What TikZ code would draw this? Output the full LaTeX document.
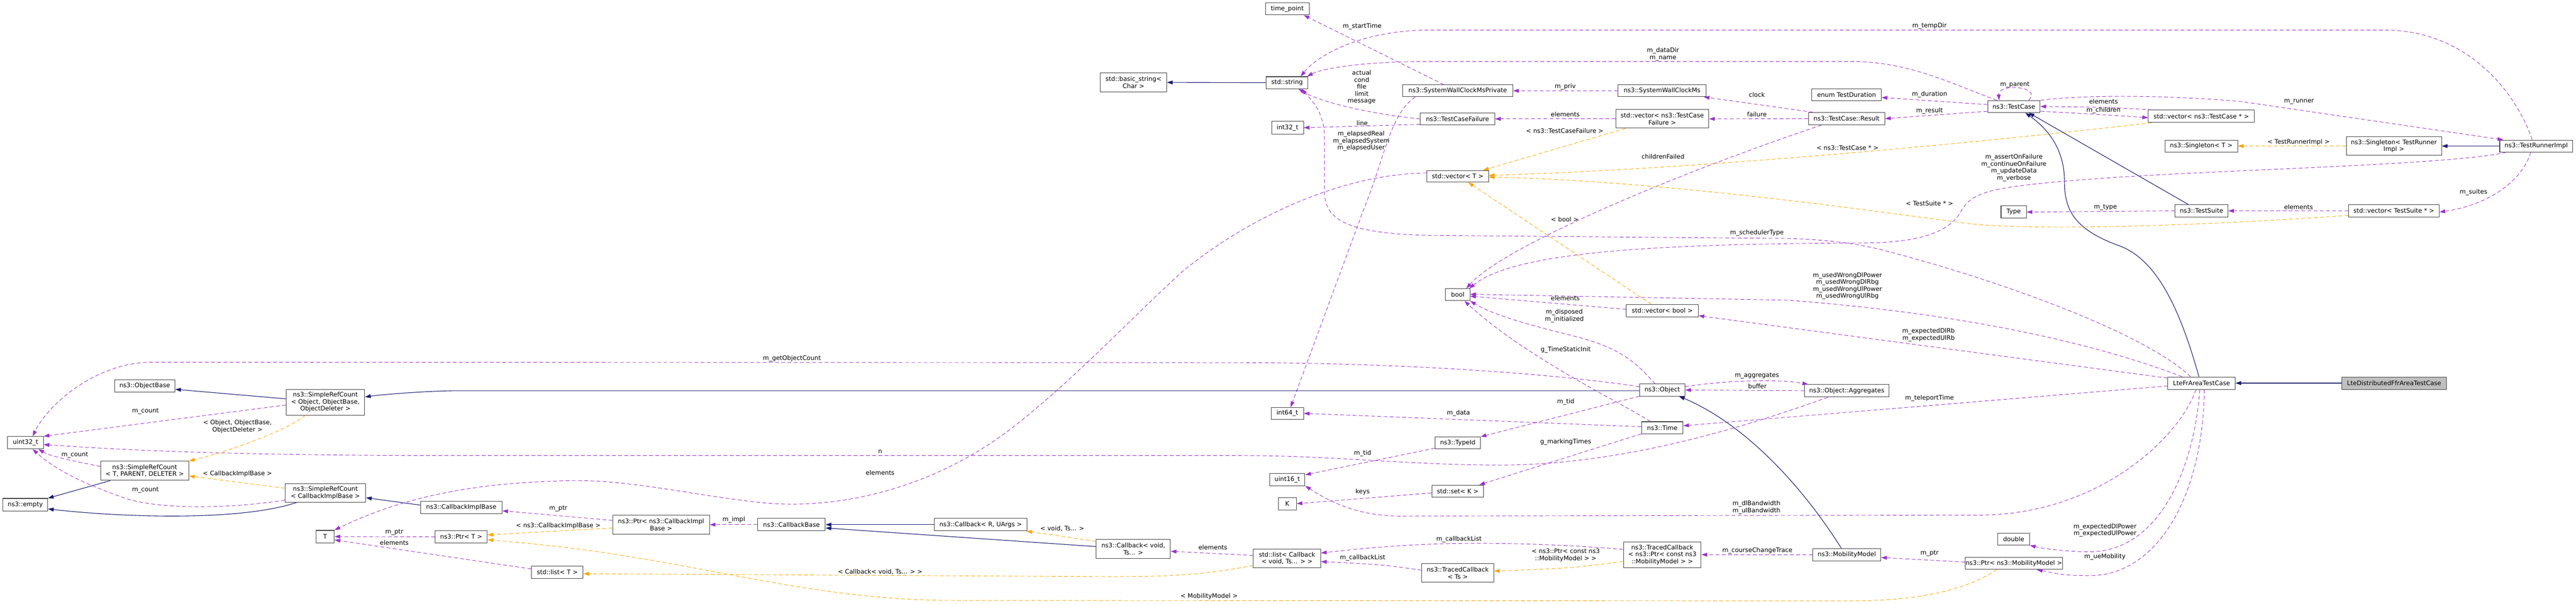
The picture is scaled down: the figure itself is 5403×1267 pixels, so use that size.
\documentclass[tikz,border=0pt]{standalone}
\usepackage{fontspec}
\setmainfont{DejaVu Sans}
\usetikzlibrary{arrows.meta}
\definecolor{inhc}{HTML}{191970}
\definecolor{usec}{HTML}{9A32CD}
\definecolor{tmplc}{HTML}{FFA500}
\definecolor{nodeb}{HTML}{404040}
\definecolor{mainfill}{HTML}{BFBFBF}
\newcommand{\dgfont}{\fontsize{13}{14.6}\selectfont}
\tikzset{
  cls/.style={draw=nodeb, line width=1.1pt, fill=white, align=center, inner sep=1pt, font=\dgfont, text=black},
  edgebase/.style={line width=1pt, -{Triangle[length=12pt,width=8pt]}},
  inher/.style={edgebase, draw=inhc, line width=1.2pt},
  usage/.style={edgebase, draw=usec, dash pattern=on 8pt off 5pt},
  templ/.style={edgebase, draw=tmplc, dash pattern=on 8pt off 5pt},
  lbl/.style={font=\dgfont, align=center, inner sep=0pt, text=black},
}
\begin{document}
\begin{tikzpicture}[x=1pt,y=-1pt]
\useasboundingbox (0,0) rectangle (5403,1267);
\fill[white] (0,0) rectangle (5403,1267);

% nodes
\node[cls,minimum width=92pt,minimum height=25.5pt] (timept) at (2700,18.5) {time\_point};
\node[cls,minimum width=139pt,minimum height=40pt] (bstr) at (2377.5,173) {std::basic\_string<\\Char >};
\node[cls,minimum width=87pt,minimum height=25pt] (str) at (2699.5,173.5) {std::string};
\node[cls,minimum width=67pt,minimum height=26pt] (i32) at (2700.5,268) {int32\_t};
\node[cls,minimum width=231pt,minimum height=25pt] (swcmp) at (3057.5,190.5) {ns3::SystemWallClockMsPrivate};
\node[cls,minimum width=184pt,minimum height=25pt] (swcm) at (3486,190.5) {ns3::SystemWallClockMs};
\node[cls,minimum width=156pt,minimum height=25pt] (tcf) at (3057,249.5) {ns3::TestCaseFailure};
\node[cls,minimum width=195pt,minimum height=39pt] (vtcf) at (3486.5,249.5) {std::vector< ns3::TestCase\\Failure >};
\node[cls,minimum width=129pt,minimum height=24.5pt] (vT) at (3057.5,370) {std::vector< T >};
\node[cls,minimum width=51pt,minimum height=25pt] (bool) at (3057.5,618.5) {bool};
\node[cls,minimum width=151pt,minimum height=26pt] (vbool) at (3486.5,652) {std::vector< bool >};
\node[cls,minimum width=146pt,minimum height=25pt] (dur) at (3873,198.5) {enum TestDuration};
\node[cls,minimum width=160pt,minimum height=26pt] (result) at (3873,249) {ns3::TestCase::Result};
\node[cls,minimum width=110pt,minimum height=25pt] (tc) at (4224,223.5) {ns3::TestCase};
\node[cls,minimum width=222pt,minimum height=26pt] (vtc) at (4617,244) {std::vector< ns3::TestCase * >};
\node[cls,minimum width=152pt,minimum height=25pt] (singT) at (4617,306.5) {ns3::Singleton< T >};
\node[cls,minimum width=200pt,minimum height=39pt] (singTR) at (5021,306.5) {ns3::Singleton< TestRunner\\Impl >};
\node[cls,minimum width=153pt,minimum height=25pt] (runner) at (5319.5,306.5) {ns3::TestRunnerImpl};
\node[cls,minimum width=53pt,minimum height=26pt] (type) at (4223.5,445) {Type};
\node[cls,minimum width=111pt,minimum height=25pt] (suite) at (4617.5,442.5) {ns3::TestSuite};
\node[cls,minimum width=190pt,minimum height=25pt] (vsuite) at (5021,442.5) {std::vector< TestSuite * >};
\node[cls,minimum width=95pt,minimum height=25pt] (object) at (3486.5,818.5) {ns3::Object};
\node[cls,minimum width=177pt,minimum height=26pt] (aggr) at (3873.5,820) {ns3::Object::Aggregates};
\node[cls,minimum width=141pt,minimum height=26pt] (ltefr) at (4617.5,804) {LteFrAreaTestCase};
\node[cls,fill=mainfill,minimum width=219pt,minimum height=26pt] (ltedist) at (5021.5,804) {LteDistributedFfrAreaTestCase};
\node[cls,minimum width=127pt,minimum height=26pt] (objbase) at (303.5,810) {ns3::ObjectBase};
\node[cls,minimum width=165pt,minimum height=54pt] (srcobj) at (682.5,844) {ns3::SimpleRefCount\\< Object, ObjectBase,\\ObjectDeleter >};
\node[cls,minimum width=75pt,minimum height=26pt] (u32) at (53.5,929) {uint32\_t};
\node[cls,minimum width=68pt,minimum height=25pt] (i64) at (2700,867.5) {int64\_t};
\node[cls,minimum width=87pt,minimum height=25pt] (time) at (3486.5,897.5) {ns3::Time};
\node[cls,minimum width=95pt,minimum height=25pt] (typeid) at (3057.5,929.5) {ns3::TypeId};
\node[cls,minimum width=185pt,minimum height=40pt] (srcT) at (303.5,988) {ns3::SimpleRefCount\\< T, PARENT, DELETER >};
\node[cls,minimum width=74pt,minimum height=25pt] (u16) at (2700,1006.5) {uint16\_t};
\node[cls,minimum width=94pt,minimum height=26pt] (empty) at (53,1059) {ns3::empty};
\node[cls,minimum width=169pt,minimum height=39pt] (srcCIB) at (682.5,1034.5) {ns3::SimpleRefCount\\< CallbackImplBase >};
\node[cls,minimum width=171pt,minimum height=26pt] (cib) at (967.5,1065) {ns3::CallbackImplBase};
\node[cls,minimum width=109pt,minimum height=25pt] (set) at (3057.5,1030.5) {std::set< K >};
\node[cls,minimum width=38pt,minimum height=26pt] (K) at (2700,1057) {K};
\node[cls,minimum width=203pt,minimum height=40pt] (ptrCIB) at (1386.5,1101) {ns3::Ptr< ns3::CallbackImpl\\Base >};
\node[cls,minimum width=142pt,minimum height=26pt] (cbbase) at (1660,1101) {ns3::CallbackBase};
\node[cls,minimum width=194pt,minimum height=26pt] (cbR) at (2057,1101) {ns3::Callback< R, UArgs >};
\node[cls,minimum width=38pt,minimum height=26pt] (T) at (682,1126) {T};
\node[cls,minimum width=109pt,minimum height=25pt] (ptrT) at (967.5,1126.5) {ns3::Ptr< T >};
\node[cls,minimum width=156pt,minimum height=40pt] (cbvoid) at (2377,1152) {ns3::Callback< void,\\Ts... >};
\node[cls,minimum width=141pt,minimum height=39pt] (listcb) at (2699.5,1171.5) {std::list< Callback\\< void, Ts... > >};
\node[cls,minimum width=163pt,minimum height=54pt] (tcMM) at (3486.5,1164) {ns3::TracedCallback\\< ns3::Ptr< const ns3\\::MobilityModel > >};
\node[cls,minimum width=143pt,minimum height=26pt] (mm) at (3873.5,1164) {ns3::MobilityModel};
\node[cls,minimum width=67pt,minimum height=25pt] (dbl) at (4223.5,1131.5) {double};
\node[cls,minimum width=192pt,minimum height=25pt] (ptrMM) at (4224,1182.5) {ns3::Ptr< ns3::MobilityModel >};
\node[cls,minimum width=151pt,minimum height=39pt] (tcTs) at (3057.5,1202.5) {ns3::TracedCallback\\< Ts >};
\node[cls,minimum width=108pt,minimum height=26pt] (listT) at (1169,1201) {std::list< T >};

% edges: top area
\draw[inher] (str.west) -- (bstr.east);
\draw[usage] ([xshift=-29.5pt]swcmp.north) -- ([xshift=-12pt]timept.south east) node[lbl,at={(2857,56)}] {m\_startTime};
\draw[usage] ([xshift=27pt]swcmp.south west) .. controls (2915,240) and (2905,330) .. (2860,440) -- ([xshift=7pt]i64.north) node[lbl,at={(2855,296)}] {m\_elapsedReal\\m\_elapsedSystem\\m\_elapsedUser};
\draw[usage] (tcf.west) .. controls (2880,240) and (2770,215) .. ([xshift=24pt]str.south) node[lbl,at={(2856,183)}] {actual\\cond\\file\\limit\\message};
\draw[usage] ([yshift=-11.5pt]tcf.west) -- (i32.east) node[lbl,at={(2857,258)}] {line};
\draw[usage] (swcm.west) -- (swcmp.east) node[lbl,at={(3283,182)}] {m\_priv};
\draw[usage] (vtcf.west) -- (tcf.east) node[lbl,at={(3283,240)}] {elements};
\draw[templ] ([xshift=21pt]vtcf.south west) -- ([xshift=-12pt]vT.north east) node[lbl,at={(3282,275)}] {< ns3::TestCaseFailure >};
\draw[usage] ([xshift=10pt]result.north west) -- ([xshift=-5pt]swcm.south east) node[lbl,at={(3685,199)}] {clock};
\draw[usage] (result.west) -- (vtcf.east) node[lbl,at={(3685,240)}] {failure};
\draw[usage] ([xshift=28pt]result.south west) .. controls (3500,370) and (3150,520) .. ([xshift=18pt]bool.north) node[lbl,at={(3488,328)}] {childrenFailed};
\draw[usage] ([yshift=4pt]tc.west) -- ([yshift=-6pt]dur.east) node[lbl,at={(4047,198)}] {m\_duration};
\draw[usage] ([yshift=-10pt]tc.west) -- (result.east) node[lbl,at={(4047,233)}] {m\_result};
\draw[usage] ([xshift=-36pt]tc.north) .. controls (4080,170) and (4000,129) .. (3880,129) -- (3000,129) .. controls (2850,129) and (2770,145) .. ([xshift=-2pt]str.north east) node[lbl,at={(3488,114)}] {m\_dataDir\\m\_name};
\draw[usage] ([xshift=-8.5pt]runner.north) .. controls (5280,200) and (5180,63) .. (5000,63) -- (3000,63) .. controls (2850,63) and (2760,120) .. ([xshift=28.5pt]str.north) node[lbl,at={(4047,54)}] {m\_tempDir};
\draw[usage] ([xshift=31pt]tc.north) .. controls (4285,180) and (4190,175) .. ([xshift=-31pt]tc.north) node[lbl,at={(4226,178)}] {m\_parent};
\draw[usage] ([xshift=8pt]vtc.north west) .. controls (4420,225) .. (tc.east) node[lbl,at={(4412,213)}] {elements};
\draw[usage] ([yshift=-10pt]tc.east) .. controls (4400,240) .. ([yshift=-3pt]vtc.west) node[lbl,at={(4412,232)}] {m\_children};
\draw[usage] (tc.north east) .. controls (4380,198) and (4550,200) .. (4700,213) -- ([xshift=8pt]runner.north west) node[lbl,at={(4822,213)}] {m\_runner};
\draw[templ] ([xshift=8pt]vtc.south west) .. controls (4100,305) and (3550,355) .. ([yshift=2pt]vT.east) node[lbl,at={(3875,310)}] {< ns3::TestCase * >};
\draw[templ] (singTR.west) -- (singT.east) node[lbl,at={(4821,298)}] {< TestRunnerImpl >};
\draw[inher] (runner.west) -- (singTR.east);
\draw[usage] ([xshift=-11.5pt]runner.south) .. controls (5290,380) and (5220,430) .. ([yshift=-2.5pt]vsuite.east) node[lbl,at={(5188,403)}] {m\_suites};
\draw[usage] (vsuite.west) -- (suite.east) node[lbl,at={(4821,434)}] {elements};
\draw[usage] (suite.west) -- (type.east) node[lbl,at={(4416,435)}] {m\_type};
\draw[inher] ([xshift=-27pt]suite.north) -- ([xshift=31pt]tc.south);
\draw[templ] ([yshift=-9.5pt]vsuite.west) .. controls (4600,475) and (4250,485) .. (4120,468) .. controls (3950,446) and (3500,380) .. ([yshift=-1.5pt]vT.east) node[lbl,at={(4047,427)}] {< TestSuite * >};
\draw[usage] ([xshift=14pt]runner.south west) .. controls (5150,345) and (4700,355) .. (4440,372) .. controls (4180,390) and (4140,400) .. (4115,440) .. controls (4090,490) and (4020,510) .. (3900,510) .. controls (3500,512) and (3180,525) .. ([xshift=-2pt]bool.north east) node[lbl,at={(4224,352)}] {m\_assertOnFailure\\m\_continueOnFailure\\m\_updateData\\m\_verbose};

% LteFrAreaTestCase edges
\draw[usage] ([xshift=-23pt]ltefr.north) .. controls (4500,700) and (4200,590) .. (3950,525) .. controls (3850,500) and (3750,500) .. (3700,500) -- (3000,494) .. controls (2820,490) and (2778,460) .. (2778,400) -- (2778,290) .. controls (2778,230) and (2745,205) .. ([xshift=31pt]str.south) node[lbl,at={(3685,489)}] {m\_schedulerType};
\draw[usage] ([xshift=-41pt]ltefr.north) .. controls (4420,730) and (4150,660) .. (3750,630) -- ([yshift=1pt]bool.east) node[lbl,at={(3875,600)}] {m\_usedWrongDlPower\\m\_usedWrongDlRbg\\m\_usedWrongUlPower\\m\_usedWrongUlRbg};
\draw[usage] ([yshift=-3pt]ltefr.north west) -- ([yshift=3pt]vbool.south east) node[lbl,at={(4045,703)}] {m\_expectedDlRb\\m\_expectedUlRb};
\draw[usage] ([yshift=3pt]vbool.west) -- ([yshift=-3pt]bool.east) node[lbl,at={(3283,626)}] {elements};
\draw[templ] ([xshift=-23pt]vbool.north) -- ([xshift=22pt]vT.south) node[lbl,at={(3282,460)}] {< bool >};
\draw[usage] ([yshift=-6pt]ltefr.west) -- ([yshift=4pt]time.east) node[lbl,at={(4047,836)}] {m\_teleportTime};
\draw[usage] ([xshift=-11.5pt]ltefr.south) .. controls (4570,920) and (4400,1081) .. (4150,1081) -- (2950,1083) .. controls (2860,1085) and (2800,1060) .. (u16.south east) node[lbl,at={(3684,1065)}] {m\_dlBandwidth\\m\_ulBandwidth};
\draw[usage] ([xshift=-3.5pt]ltefr.south) .. controls (4600,1000) and (4520,1160) .. (4380,1158) .. controls (4320,1157) and (4280,1150) .. (dbl.south east) node[lbl,at={(4415,1113)}] {m\_expectedDlPower\\m\_expectedUlPower};
\draw[usage] ([xshift=6pt]ltefr.south) .. controls (4620,1050) and (4520,1210) .. (4380,1208) .. controls (4330,1207) .. ([xshift=48pt]ptrMM.south) node[lbl,at={(4415,1169)}] {m\_ueMobility};
\draw[inher] (ltedist.west) -- (ltefr.east);
\draw[inher] ([xshift=-5.5pt]ltefr.north) .. controls (4570,640) and (4520,540) .. (4440,514) .. controls (4350,480) and (4330,440) .. (4330,380) .. controls (4330,300) and (4280,260) .. ([xshift=24pt]tc.south);

% Object / Time area
\draw[usage] ([xshift=-15pt]object.north) .. controls (3430,760) and (3400,730) .. (3300,705) .. controls (3200,680) and (3130,660) .. (bool.south east) node[lbl,at={(3281,663)}] {m\_disposed\\m\_initialized};
\draw[usage] ([xshift=-25pt]time.north) .. controls (3400,845) and (3200,750) .. ([xshift=14pt]bool.south) node[lbl,at={(3284,734)}] {g\_TimeStaticInit};
\draw[usage] (object.south west) -- (typeid.north east) node[lbl,at={(3284,843)}] {m\_tid};
\draw[usage] ([yshift=2pt]time.west) -- (i64.east) node[lbl,at={(3059,867)}] {m\_data};
\draw[usage] (time.south west) -- ([xshift=-10pt]set.north east) node[lbl,at={(3284,927)}] {g\_markingTimes};
\draw[usage] ([yshift=-4pt]set.west) -- (K.east) node[lbl,at={(2858,1032)}] {keys};
\draw[usage] ([yshift=2pt]typeid.south west) -- ([yshift=-3pt]u16.north east) node[lbl,at={(2858,951)}] {m\_tid};
\draw[usage] ([yshift=7pt]object.east) .. controls (3620,798) and (3730,795) .. ([xshift=8pt]aggr.north west) node[lbl,at={(3685,789)}] {m\_aggregates};
\draw[usage] (aggr.west) -- (object.east) node[lbl,at={(3686,810)}] {buffer};
\draw[inher] ([xshift=-11.5pt]mm.north) .. controls (3780,1020) and (3660,890) .. ([xshift=35pt]object.south);
\draw[usage] ([yshift=7pt]object.west) .. controls (3300,790) and (3000,762) .. (2600,761) -- (320,760) .. controls (200,760) and (100,850) .. ([xshift=15pt]u32.north) node[lbl,at={(1661,752)}] {m\_getObjectCount};
\draw[inher] ([yshift=-1.5pt]object.west) -- (960,820) .. controls (900,820) and (800,828) .. ([yshift=11pt]srcobj.east);
\draw[usage] ([xshift=-39.5pt]aggr.south) .. controls (3650,900) and (3400,975) .. (3150,976) .. controls (2950,976) and (2800,956) .. (2600,956) -- (900,956) .. controls (400,955) and (200,940) .. ([yshift=-4pt]u32.east) node[lbl,at={(1846,948)}] {n};

% SimpleRefCount area
\draw[inher] ([yshift=7pt]srcobj.west) -- ([yshift=-7pt]objbase.east);
\draw[usage] ([yshift=-6pt]srcobj.west) -- (u32.north east) node[lbl,at={(305,863)}] {m\_count};
\draw[templ] ([xshift=-42pt]srcobj.south) .. controls (600,905) and (470,950) .. (srcT.north east) node[lbl,at={(498,895)}] {< Object, ObjectBase,\\ObjectDeleter >};
\draw[usage] ([yshift=9pt]srcT.west) .. controls (170,970) and (110,960) .. ([xshift=-11pt]u32.south east) node[lbl,at={(157,955)}] {m\_count};
\draw[inher] ([xshift=21pt]srcT.south west) -- (empty.north east);
\draw[templ] ([yshift=10pt]srcCIB.west) -- ([yshift=-11pt]srcT.east) node[lbl,at={(498,994)}] {< CallbackImplBase >};
\draw[usage] ([yshift=-15pt]srcCIB.west) .. controls (480,1068) and (330,1070) .. (258,1044) .. controls (190,1020) and (120,990) .. ([xshift=15pt]u32.south) node[lbl,at={(305,1028)}] {m\_count};
\draw[inher] ([xshift=-60.5pt]srcCIB.south) .. controls (500,1095) and (250,1085) .. ([yshift=-9pt]empty.east);
\draw[inher] ([yshift=5pt]cib.west) -- ([yshift=-10pt]srcCIB.east);

% Callback area
\draw[usage] ([yshift=9pt]ptrCIB.west) -- ([yshift=-7pt]cib.east) node[lbl,at={(1171,1067)}] {m\_ptr};
\draw[templ] ([yshift=-7pt]ptrCIB.west) -- ([yshift=4pt]ptrT.east) node[lbl,at={(1171,1103)}] {< ns3::CallbackImplBase >};
\draw[usage] (cbbase.west) -- (ptrCIB.east) node[lbl,at={(1539,1091)}] {m\_impl};
\draw[inher] (cbR.west) -- (cbbase.east);
\draw[inher] ([yshift=5pt]cbvoid.west) -- ([yshift=-7pt]cbbase.east);
\draw[templ] ([yshift=16pt]cbvoid.west) -- ([xshift=-2pt]cbR.south east) node[lbl,at={(2228,1109)}] {< void, Ts... >};
\draw[usage] ([yshift=6pt]listcb.west) -- ([yshift=-5pt]cbvoid.east) node[lbl,at={(2544,1149)}] {elements};
\draw[usage] (ptrT.west) -- (T.east) node[lbl,at={(827,1117)}] {m\_ptr};
\draw[usage] ([yshift=7pt]listT.west) -- ([yshift=-7pt]T.east) node[lbl,at={(827,1139)}] {elements};
\draw[templ] ([yshift=5pt]listcb.south west) .. controls (2500,1212) and (2400,1210) .. (2300,1210) -- ([yshift=-3pt]listT.east) node[lbl,at={(1846,1200)}] {< Callback< void, Ts... > >};
\draw[templ] ([xshift=-36pt]ptrMM.south) .. controls (4120,1240) and (4020,1261) .. (3880,1261) -- (2000,1260) .. controls (1750,1260) and (1550,1205) .. (1320,1168) .. controls (1180,1145) and (1080,1138) .. ([yshift=-6pt]ptrT.east) node[lbl,at={(2536,1251)}] {< MobilityModel >};
\draw[usage] ([yshift=7pt]vT.west) .. controls (2800,365) and (2600,470) .. (2480,570) .. controls (2380,660) and (2250,800) .. (2120,900) .. controls (1950,1030) and (1750,1070) .. (1600,1055) .. controls (1450,1040) and (1300,1000) .. (1160,1010) .. controls (1000,1015) and (850,1040) .. (T.north east) node[lbl,at={(1846,992)}] {elements};

% TracedCallback / Mobility
\draw[usage] ([yshift=11pt]tcMM.west) .. controls (3250,1140) and (3100,1138) .. (3000,1142) .. controls (2900,1146) and (2820,1155) .. ([yshift=11pt]listcb.east) node[lbl,at={(3060,1132)}] {m\_callbackList};
\draw[usage] ([yshift=6pt]tcTs.west) .. controls (2900,1185) .. ([yshift=-7pt]listcb.east) node[lbl,at={(2858,1171)}] {m\_callbackList};
\draw[templ] ([yshift=-14pt]tcMM.west) .. controls (3300,1192) .. ([yshift=4pt]tcTs.east) node[lbl,at={(3284,1165)}] {< ns3::Ptr< const ns3\\::MobilityModel > >};
\draw[usage] (mm.west) -- (tcMM.east) node[lbl,at={(3686,1155)}] {m\_courseChangeTrace};
\draw[usage] ([yshift=3pt]ptrMM.west) -- ([yshift=-6pt]mm.east) node[lbl,at={(4047,1161)}] {m\_ptr};
\end{tikzpicture}
\end{document}
